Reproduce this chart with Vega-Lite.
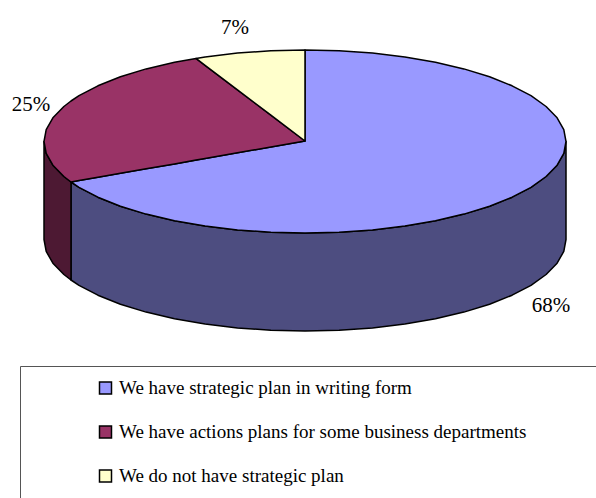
{"$schema":"https://vega.github.io/schema/vega-lite/v6.json","width":596,"height":498,"padding":0,"autosize":{"type":"fit","contains":"padding"},"background":"white","config":{"view":{"stroke":null}},
"datasets":{
"sides":[
{"part":"purple","x":71,"y":182,"y2":280},{"part":"purple","x":79,"y":187.3,"y2":285.3},{"part":"purple","x":97.9,"y":197.2,"y2":295.2},{"part":"purple","x":120.4,"y":206.2,"y2":304.2},{"part":"purple","x":146.1,"y":214.1,"y2":312.1},{"part":"purple","x":174.5,"y":220.7,"y2":318.7},{"part":"purple","x":205.1,"y":226,"y2":324},{"part":"purple","x":237.5,"y":229.9,"y2":327.9},{"part":"purple","x":270.9,"y":232.2,"y2":330.2},{"part":"purple","x":305,"y":233,"y2":331},{"part":"purple","x":339.1,"y":232.2,"y2":330.2},{"part":"purple","x":372.5,"y":229.9,"y2":327.9},{"part":"purple","x":404.9,"y":226,"y2":324},{"part":"purple","x":435.5,"y":220.7,"y2":318.7},{"part":"purple","x":463.9,"y":214.1,"y2":312.1},{"part":"purple","x":489.6,"y":206.2,"y2":304.2},{"part":"purple","x":512.1,"y":197.2,"y2":295.2},{"part":"purple","x":531,"y":187.3,"y2":285.3},{"part":"purple","x":546.1,"y":176.5,"y2":274.5},{"part":"purple","x":557.1,"y":165.2,"y2":263.2},{"part":"purple","x":563.8,"y":153.4,"y2":251.4},{"part":"purple","x":566,"y":141.5,"y2":239.5},
{"part":"maroon","x":44,"y":141.5,"y2":239.5},{"part":"maroon","x":46.2,"y":153.4,"y2":251.4},{"part":"maroon","x":52.9,"y":165.2,"y2":263.2},{"part":"maroon","x":63.9,"y":176.5,"y2":274.5},{"part":"maroon","x":71,"y":182,"y2":280}],
"tops":[
{"part":"We have strategic plan in writing form","x":71,"y":182,"y2":182},{"part":"We have strategic plan in writing form","x":79,"y":180.6,"y2":187.3},{"part":"We have strategic plan in writing form","x":97.9,"y":177.3,"y2":197.2},{"part":"We have strategic plan in writing form","x":120.4,"y":173.3,"y2":206.2},{"part":"We have strategic plan in writing form","x":146.1,"y":168.8,"y2":214.1},{"part":"We have strategic plan in writing form","x":174.5,"y":163.9,"y2":220.7},{"part":"We have strategic plan in writing form","x":205.1,"y":158.5,"y2":226},{"part":"We have strategic plan in writing form","x":237.5,"y":152.8,"y2":229.9},{"part":"We have strategic plan in writing form","x":270.9,"y":147,"y2":232.2},{"part":"We have strategic plan in writing form","x":305,"y":141,"y2":233},{"part":"We have strategic plan in writing form","x":305.01,"y":50,"y2":233},{"part":"We have strategic plan in writing form","x":339.1,"y":50.8,"y2":232.2},{"part":"We have strategic plan in writing form","x":372.5,"y":53.1,"y2":229.9},{"part":"We have strategic plan in writing form","x":404.9,"y":57,"y2":226},{"part":"We have strategic plan in writing form","x":435.5,"y":62.3,"y2":220.7},{"part":"We have strategic plan in writing form","x":463.9,"y":68.9,"y2":214.1},{"part":"We have strategic plan in writing form","x":489.6,"y":76.8,"y2":206.2},{"part":"We have strategic plan in writing form","x":512.1,"y":85.8,"y2":197.2},{"part":"We have strategic plan in writing form","x":531,"y":95.7,"y2":187.3},{"part":"We have strategic plan in writing form","x":546.1,"y":106.5,"y2":176.5},{"part":"We have strategic plan in writing form","x":557.1,"y":117.8,"y2":165.2},{"part":"We have strategic plan in writing form","x":563.8,"y":129.6,"y2":153.4},{"part":"We have strategic plan in writing form","x":566,"y":141.5,"y2":141.5},
{"part":"We have actions plans for some business departments","x":44,"y":141.5,"y2":141.5},{"part":"We have actions plans for some business departments","x":46.2,"y":129.6,"y2":153.4},{"part":"We have actions plans for some business departments","x":52.9,"y":117.8,"y2":165.2},{"part":"We have actions plans for some business departments","x":63.9,"y":106.5,"y2":176.5},{"part":"We have actions plans for some business departments","x":71,"y":101,"y2":182},{"part":"We have actions plans for some business departments","x":79,"y":95.7,"y2":180.6},{"part":"We have actions plans for some business departments","x":97.9,"y":85.8,"y2":177.3},{"part":"We have actions plans for some business departments","x":120.4,"y":76.8,"y2":173.3},{"part":"We have actions plans for some business departments","x":146.1,"y":68.9,"y2":168.8},{"part":"We have actions plans for some business departments","x":174.5,"y":62.3,"y2":163.9},{"part":"We have actions plans for some business departments","x":196,"y":58.4,"y2":160.1},{"part":"We have actions plans for some business departments","x":205.1,"y":65.3,"y2":158.5},{"part":"We have actions plans for some business departments","x":237.5,"y":89.9,"y2":152.8},{"part":"We have actions plans for some business departments","x":270.9,"y":115.2,"y2":147},{"part":"We have actions plans for some business departments","x":305,"y":141,"y2":141},
{"part":"We do not have strategic plan","x":196,"y":58.4,"y2":58.4},{"part":"We do not have strategic plan","x":205.1,"y":57,"y2":65.3},{"part":"We do not have strategic plan","x":237.5,"y":53.1,"y2":89.9},{"part":"We do not have strategic plan","x":270.9,"y":50.8,"y2":115.2},{"part":"We do not have strategic plan","x":305,"y":50,"y2":141}],
"shares":[{"share":0.68,"x":551,"y":306},{"share":0.25,"x":31,"y":105},{"share":0.07,"x":235,"y":28}],
"frame":[{"x":20.5,"x2":600,"y":366.5,"y2":502}]},
"layer":[
{"data":{"name":"frame"},"mark":{"type":"rect","fill":"white","stroke":"#555555","strokeWidth":1,"clip":true},"encoding":{"x":{"field":"x","type":"quantitative","scale":{"domain":[0,596]},"axis":null},"x2":{"field":"x2"},"y":{"field":"y","type":"quantitative","scale":{"domain":[0,498],"reverse":true},"axis":null},"y2":{"field":"y2"}}},
{"data":{"name":"sides"},"mark":{"type":"area","stroke":"black","strokeWidth":1.5,"strokeJoin":"round"},"encoding":{"x":{"field":"x","type":"quantitative","scale":{"domain":[0,596]},"axis":null},"y":{"field":"y","type":"quantitative","scale":{"domain":[0,498],"reverse":true},"axis":null},"y2":{"field":"y2"},"fill":{"field":"part","type":"nominal","legend":null,"scale":{"domain":["purple","maroon"],"range":["#4D4D80","#4D1933"]}}}},
{"data":{"name":"tops"},"mark":{"type":"area","stroke":"black","strokeWidth":1.5,"strokeJoin":"round"},"encoding":{"x":{"field":"x","type":"quantitative","scale":{"domain":[0,596]},"axis":null},"y":{"field":"y","type":"quantitative","scale":{"domain":[0,498],"reverse":true},"axis":null},"y2":{"field":"y2"},"fill":{"field":"part","type":"nominal","sort":null,"scale":{"domain":["We have strategic plan in writing form","We have actions plans for some business departments","We do not have strategic plan"],"range":["#9999FF","#993366","#FFFFCC"]},"legend":{"title":null,"orient":"none","legendX":96,"legendY":377,"padding":0,"symbolType":"square","symbolSize":144,"symbolStrokeColor":"black","symbolStrokeWidth":1.5,"symbolOpacity":1,"labelFont":"Liberation Serif","labelFontSize":19,"labelColor":"black","labelOffset":4,"labelLimit":480,"rowPadding":22,"clipHeight":22}}}},
{"data":{"name":"shares"},"mark":{"type":"text","font":"Liberation Serif","fontSize":21,"color":"black","align":"center","baseline":"middle"},"encoding":{"x":{"field":"x","type":"quantitative","scale":{"domain":[0,596]},"axis":null},"y":{"field":"y","type":"quantitative","scale":{"domain":[0,498],"reverse":true},"axis":null},"text":{"field":"share","type":"quantitative","format":".0%"}}}
],
"resolve":{"scale":{"fill":"independent"}}}
